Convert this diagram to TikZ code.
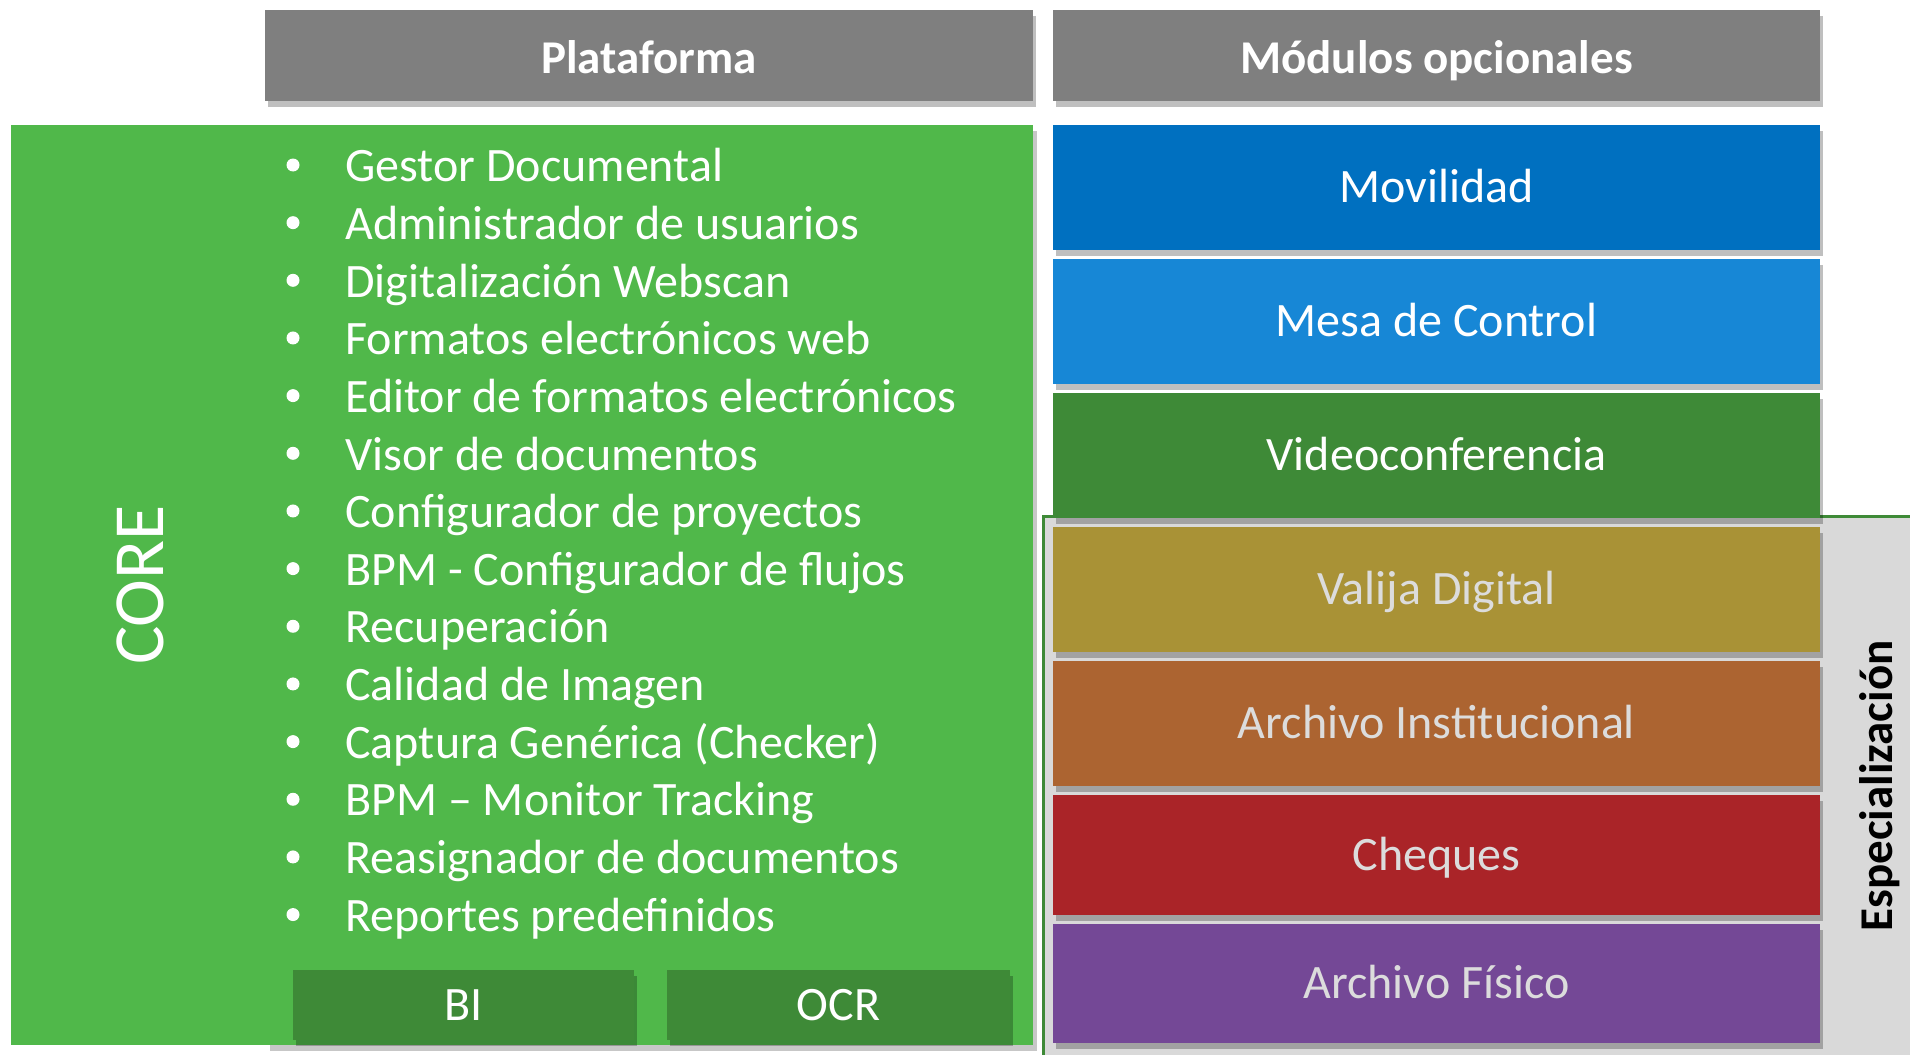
\documentclass[tikz,border=0pt]{standalone}
\usepackage{fontspec}
\setmainfont{Carlito}
\usetikzlibrary{shadows}
\definecolor{hdrgray}{HTML}{7F7F7F}
\definecolor{coregreen}{HTML}{50B84A}
\definecolor{darkgreen}{HTML}{3E8A37}
\definecolor{movblue}{HTML}{0070C0}
\definecolor{mesablue}{HTML}{1787D6}
\definecolor{valija}{HTML}{A99236}
\definecolor{archinst}{HTML}{AC6431}
\definecolor{cheques}{HTML}{AA2428}
\definecolor{archfis}{HTML}{744896}
\definecolor{espgray}{HTML}{D9D9D9}
\definecolor{lighttext}{HTML}{DCDCDC}
\begin{document}
\begin{tikzpicture}[x=0.5pt,y=-0.5pt,
  shade/.style={drop shadow={shadow xshift=1.5pt,shadow yshift=-3pt,fill=black,opacity=0.25}},
  block/.style={rectangle,inner sep=0pt,draw=none,shade,text height=15.5pt,text depth=0.5pt,font=\fontsize{24}{28}\selectfont},
  hdr/.style={block,fill=hdrgray,text=white,minimum height=45.5pt,text height=19pt,text depth=1pt,font=\fontsize{23.5}{28}\selectfont\bfseries},
  modbox/.style={block,minimum width=383.5pt,minimum height=62.5pt},
  subbox/.style={block,fill=darkgreen,text=white,minimum height=35pt},
  item/.style={anchor=base west,inner sep=0pt,text=white,font=\fontsize{24}{28}\selectfont},
  bullet/.style={circle,fill=white,inner sep=0pt,minimum size=6.5pt}]
\useasboundingbox (0,0) rectangle (1910,1054);
\clip (0,0) rectangle (1910,1054);
% Especializacion region
\path[fill=espgray,draw=darkgreen,line width=1.5pt] (1043.5,516) rectangle (1930,1070);
\node[rotate=90,anchor=base,inner sep=0pt,font=\fontsize{23.5}{28}\selectfont\bfseries] (esp) at (1892,786) {Especialización};
% headers
\node[hdr,minimum width=384pt] (plat) at (649,55.5) {Plataforma};
\node[hdr,minimum width=383.5pt] (mod) at (1436.5,55.5) {Módulos opcionales};
% core box
\fill[black,opacity=0.22] (270,131) rectangle (1037,1051);
\node[rectangle,inner sep=0pt,fill=coregreen,minimum width=511pt,minimum height=460pt] (core) at (522,585) {};
\node[rotate=90,inner sep=0pt,text=white,font=\fontsize{36}{40}\selectfont] (coretxt) at (140,585) {CORE};
\foreach \t [count=\i from 0] in {Gestor Documental,Administrador de usuarios,Digitalización Webscan,Formatos electrónicos web,Editor de formatos electrónicos,Visor de documentos,Configurador de proyectos,BPM - Configurador de flujos,Recuperación,Calidad de Imagen,Captura Genérica (Checker),BPM – Monitor Tracking,Reasignador de documentos,Reportes predefinidos}{
  \node[bullet] (bul\i) at ({293},{165+57.66*\i}) {};
  \node[item] (item\i) at ({345},{181.7+57.66*\i}) {\t};
}
\node[subbox,minimum width=170.5pt] (bi) at (463.5,1005) {BI};
\node[subbox,minimum width=171.5pt] (ocr) at (838.5,1005) {OCR};
% modules
\node[modbox,fill=movblue,text=white] (mov) at (1436.5,187.5) {Movilidad};
\node[modbox,fill=mesablue,text=white] (mesa) at (1436.5,321.5) {Mesa de Control};
\node[modbox,fill=darkgreen,text=white] (video) at (1436.5,455.5) {Videoconferencia};
\node[modbox,fill=valija,text=lighttext] (val) at (1436.5,589.5) {Valija Digital};
\node[modbox,fill=archinst,text=lighttext] (ainst) at (1436.5,723.5) {Archivo Institucional};
\node[modbox,fill=cheques,text=lighttext,minimum height=60pt] (cheq) at (1436.5,855) {Cheques};
\node[modbox,fill=archfis,text=lighttext,minimum height=59.5pt] (afis) at (1436.5,983.5) {Archivo Físico};
\end{tikzpicture}
\end{document}
